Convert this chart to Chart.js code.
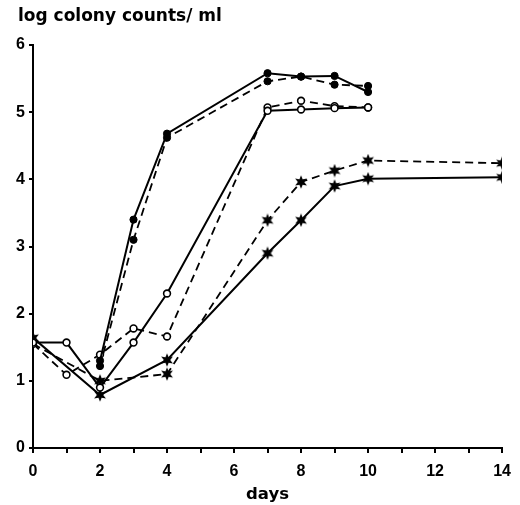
<!DOCTYPE html>
<html lang="en">
<head>
<meta charset="UTF-8">
<title>log colony counts</title>
<script src="https://cdn.jsdelivr.net/npm/chart.js"></script>
<style>
  body { margin: 0; background: #fff; }
  #wrap { width: 520px; height: 505px; }
</style>
</head>
<body>
<div id="wrap"><canvas id="growth" width="520" height="505"></canvas></div>
<script>
const days = [0, 1, 2, 3, 4, 7, 8, 9, 10, 14];
const filledSolid  = [null, null, 1.30, 3.40, 4.68, 5.58, 5.53, 5.54, 5.30, null];
const filledDashed = [null, null, 1.22, 3.10, 4.62, 5.46, 5.53, 5.41, 5.39, null];
const openSolid    = [1.57, 1.57, 0.90, 1.57, 2.30, 5.02, 5.04, 5.06, 5.07, null];
const openDashed   = [1.55, 1.09, 1.39, 1.78, 1.66, 5.07, 5.17, 5.09, 5.07, null];
const starSolid    = [1.64, null, 0.79, null, 1.31, 2.90, 3.39, 3.90, 4.01, 4.03];
const starDashed   = [1.55, null, 1.00, null, 1.10, 3.39, 3.96, 4.13, 4.28, 4.24];
const yTicks = [0, 1, 2, 3, 4, 5, 6];
const xLabelled = [0, 2, 4, 6, 8, 10, 12, 14];
const yTitle = 'log colony counts/ ml';
const xTitle = 'days';

function points(vals) {
  const out = [];
  vals.forEach((v, i) => { if (v !== null) out.push({ x: days[i], y: v }); });
  return out;
}

// six-pointed filled star marker
const star = document.createElement('canvas');
star.width = 14; star.height = 14;
(function () {
  const c = star.getContext('2d');
  c.fillStyle = '#000';
  c.beginPath();
  for (let k = 0; k < 12; k++) {
    const r = k % 2 === 0 ? 6.8 : 3.2;
    const a = -Math.PI / 2 + k * Math.PI / 6;
    const px = 7 + r * Math.cos(a), py = 7 + r * Math.sin(a);
    if (k === 0) c.moveTo(px, py); else c.lineTo(px, py);
  }
  c.closePath();
  c.fill();
})();

function series(vals, dashed, marker) {
  const ds = {
    data: points(vals),
    borderColor: '#000',
    borderWidth: dashed ? 1.8 : 2,
    borderDash: dashed ? [8, 5] : [],
    fill: false,
    tension: 0
  };
  if (marker === 'filled') {
    Object.assign(ds, { pointStyle: 'circle', pointRadius: 3.6, pointBackgroundColor: '#000', pointBorderColor: '#000', pointBorderWidth: 1 });
  } else if (marker === 'open') {
    Object.assign(ds, { pointStyle: 'circle', pointRadius: 3.4, pointBackgroundColor: '#fff', pointBorderColor: '#000', pointBorderWidth: 1.6 });
  } else {
    Object.assign(ds, { pointStyle: star, pointRadius: 7 });
  }
  return ds;
}

const font = { family: 'Liberation Sans, Arial, sans-serif', size: 16, weight: 'bold' };
const wordFamily = 'DejaVu Sans, sans-serif';

// axis caption above the y axis, left-aligned like the original figure
const yCaption = {
  id: 'yCaption',
  afterDraw(chart) {
    const c = chart.ctx;
    c.save();
    c.fillStyle = '#000';
    c.font = 'bold 17px ' + wordFamily;
    c.textAlign = 'left';
    c.textBaseline = 'middle';
    c.fillText(yTitle, 18, 17);
    c.restore();
  }
};

new Chart(document.getElementById('growth'), {
  type: 'line',
  data: {
    datasets: [
      series(filledSolid, false, 'filled'),
      series(filledDashed, true, 'filled'),
      series(openSolid, false, 'open'),
      series(openDashed, true, 'open'),
      series(starSolid, false, 'star'),
      series(starDashed, true, 'star')
    ]
  },
  plugins: [yCaption],
  options: {
    responsive: false,
    animation: false,
    layout: { padding: { left: 8, right: 12, top: 45, bottom: 0 } },
    plugins: {
      legend: { display: false },
      tooltip: { enabled: false },
      title: { display: false }
    },
    scales: {
      x: {
        type: 'linear',
        min: 0, max: 14,
        border: { color: '#000', width: 2 },
        grid: { drawOnChartArea: false, drawTicks: true, tickLength: 5, tickColor: '#000', lineWidth: 2 },
        ticks: {
          stepSize: 1, autoSkip: false, maxRotation: 0, color: '#000', font: font, padding: 9,
          callback: v => xLabelled.includes(v) ? String(v) : ''
        },
        title: { display: true, text: xTitle, color: '#000', font: { family: wordFamily, size: 16.5, weight: 'bold' }, padding: { top: 6, bottom: 0 } },
        afterFit: s => { s.height = 57; }
      },
      y: {
        type: 'linear',
        min: 0, max: 6,
        border: { color: '#000', width: 2 },
        grid: { drawOnChartArea: false, drawTicks: true, tickLength: 4, tickColor: '#000', lineWidth: 2 },
        ticks: { stepSize: 1, color: '#000', font: font, padding: 4, callback: v => yTicks.includes(v) ? String(v) : '' },
        afterFit: s => { s.width = 25; }
      }
    }
  }
});
</script>
</body>
</html>
